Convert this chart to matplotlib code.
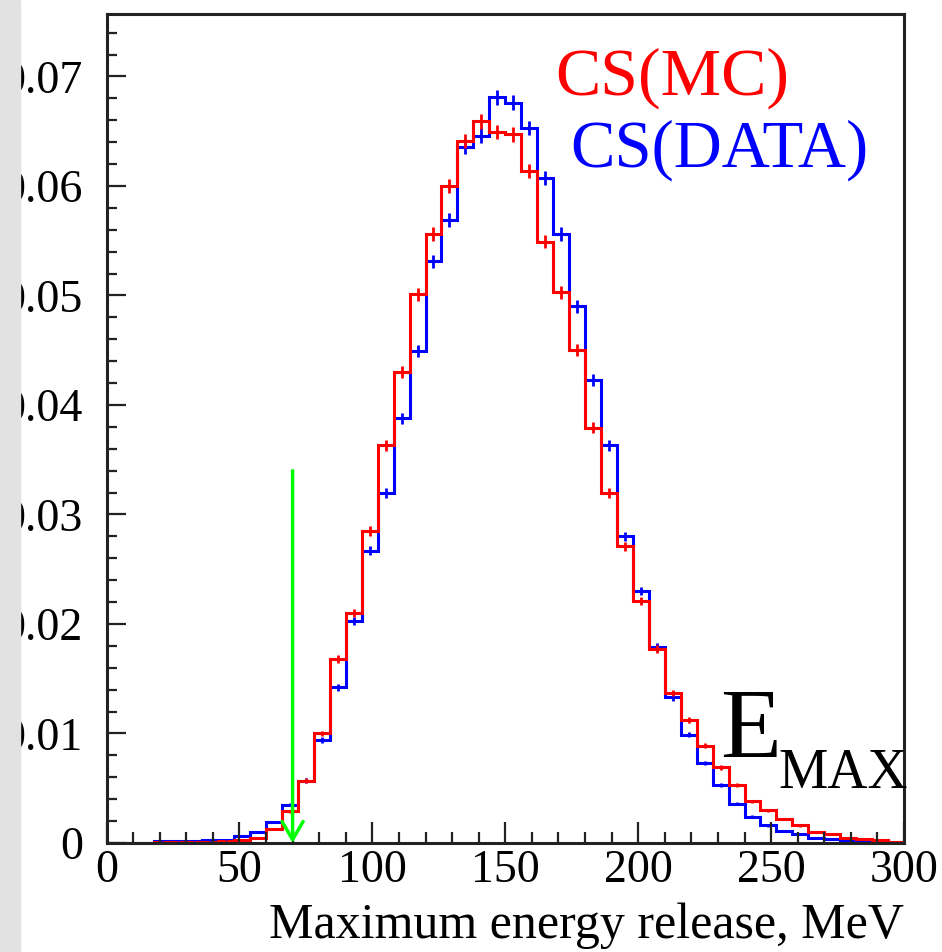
import numpy as np
import matplotlib
matplotlib.use("Agg")
import matplotlib.pyplot as plt
from matplotlib.patches import Rectangle
from matplotlib.ticker import FixedLocator, MultipleLocator, FuncFormatter

# ---------------- data (normalised histograms, 6 MeV bins from 0 to 300)
bin_edges = np.arange(0, 301, 6)

cs_mc = [0.00003, 0.00003, 0.00003, 0.00005, 0.00008, 0.0001, 0.0001, 0.00015,
         0.0003, 0.0005, 0.00125, 0.0029, 0.0057, 0.0100, 0.0168, 0.0210,
         0.0285, 0.0363, 0.0430, 0.0501, 0.0556, 0.0600, 0.0641, 0.0659,
         0.0649, 0.0647, 0.0614, 0.0549, 0.0503, 0.0450, 0.0379, 0.0320,
         0.0271, 0.0221, 0.0177, 0.0137, 0.0112, 0.0089, 0.0069, 0.0053,
         0.0038, 0.0030, 0.0022, 0.0016, 0.0010, 0.0008, 0.0005, 0.0004,
         0.00025, 0.0001]

cs_data = [0.0, 0.0, 0.0, 0.00015, 0.0002, 0.0002, 0.00025, 0.0003,
           0.00065, 0.0010, 0.0019, 0.0035, 0.0057, 0.0094, 0.0142, 0.0203,
           0.0267, 0.0320, 0.0388, 0.0449, 0.0531, 0.0569, 0.0636, 0.0646,
           0.0681, 0.0676, 0.0653, 0.0607, 0.0556, 0.0490, 0.0423, 0.0363,
           0.0280, 0.0230, 0.0179, 0.0133, 0.0099, 0.0073, 0.0053, 0.0036,
           0.0024, 0.0016, 0.0011, 0.0008, 0.0005, 0.0004, 0.0002, 0.00015,
           0.0001, 0.00005]

n_events = 150000      # statistics used for the error crosses
cut_value = 70         # E_MAX cut (green arrow)
arrow_top = 0.034

y_ticks = [0, 0.01, 0.02, 0.03, 0.04, 0.05, 0.06, 0.07]
x_ticks = [0, 50, 100, 150, 200, 250, 300]

# ---------------- figure
serif = "Liberation Serif"
fig = plt.figure(figsize=(9.42, 9.52), dpi=100)
ax = fig.add_axes([106.5 / 942, 1 - 843 / 952, (904 - 106.5) / 942, (843 - 14) / 952])

centers = 0.5 * (bin_edges[1:] + bin_edges[:-1])
for vals, col in [(cs_data, "#0000ff"), (cs_mc, "#ff0000")]:
    vals = np.array(vals)
    ax.stairs(vals, bin_edges, color=col, lw=2.2)
    err = np.sqrt(vals / n_events)
    ax.errorbar(centers, vals, yerr=err, fmt="none", ecolor=col, elinewidth=2.0)

ax.annotate("", xy=(cut_value, 0), xytext=(cut_value, arrow_top),
            arrowprops=dict(arrowstyle="->,head_length=0.65,head_width=0.38",
                            color="#00ff00", lw=2.5, mutation_scale=20,
                            shrinkA=0, shrinkB=0))

ax.set_xlim(0, 300)
ax.set_ylim(0, 0.0757)

ax.xaxis.set_major_locator(FixedLocator(x_ticks))
ax.xaxis.set_minor_locator(MultipleLocator(10))
ax.yaxis.set_major_locator(FixedLocator(y_ticks))
ax.yaxis.set_minor_locator(MultipleLocator(0.002))
ax.yaxis.set_major_formatter(FuncFormatter(lambda v, p: "0" if v == 0 else "%.2f" % v))

ax.tick_params(which="both", direction="in", top=False, right=False, width=1.6, color="#222222")
ax.tick_params(axis="x", which="major", length=15, pad=5)
ax.tick_params(axis="x", which="minor", length=8)
ax.tick_params(axis="y", which="major", length=14, pad=17)
ax.tick_params(axis="y", which="minor", length=7)
for lab in ax.get_xticklabels() + ax.get_yticklabels():
    lab.set_fontfamily(serif)
    lab.set_fontsize(33)

for s in ax.spines.values():
    s.set_linewidth(2.2)
    s.set_color("#222222")

ax.set_xlabel("Maximum energy release, MeV", family=serif, fontsize=36, loc="right", labelpad=7)

fig.text(555 / 942, 1 - 95 / 952, "CS(MC)", color="#ff0000", family=serif, fontsize=49, va="baseline")
fig.text(570 / 942, 1 - 167 / 952, "CS(DATA)", color="#0000ff", family=serif, fontsize=48, va="baseline")
fig.text(720 / 942, 1 - 757 / 952, "E", color="black", family=serif, fontsize=72, va="baseline")
fig.text(778 / 942, 1 - 788 / 952, "MAX", color="black", family=serif, fontsize=40, va="baseline")

# grey border strip on the left
fig.add_artist(Rectangle((0, 0), 20 / 942, 1, transform=fig.transFigure,
                         color="#e2e2e2", zorder=10))

fig.savefig("out.png", dpi=100)
